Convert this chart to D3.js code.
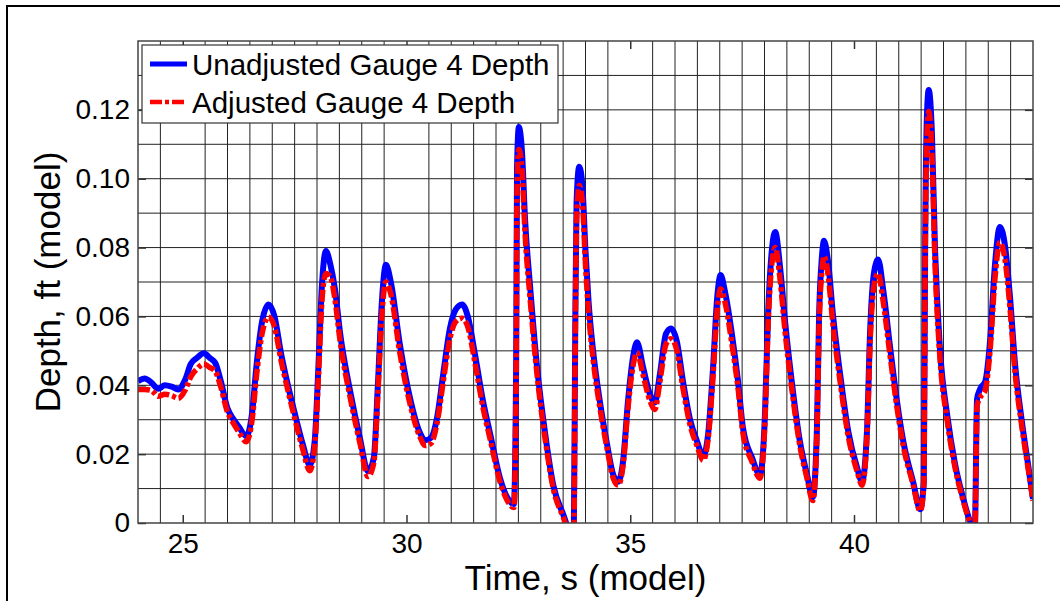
<!DOCTYPE html>
<html>
<head>
<meta charset="utf-8">
<script src="https://cdn.jsdelivr.net/npm/d3@7"></script>
<style>
  body { margin: 0; background: #fff; }
  svg { display: block; font-family: "Liberation Sans", Arial, sans-serif; }
</style>
</head>
<body>
<div id="chart"></div>
<script>
// time, s (model)
var time = [
  24.00, 24.15, 24.30, 24.45, 24.60, 24.75, 24.90, 25.05, 25.18, 25.32, 25.47, 25.60, 25.73, 25.85,
  26.00, 26.12, 26.25, 26.42, 26.55, 26.65, 26.78, 26.92, 27.05, 27.20, 27.35, 27.50, 27.68, 27.84,
  27.95, 28.03, 28.11, 28.20, 28.30, 28.40, 28.52, 28.74, 28.96, 29.14, 29.27, 29.36, 29.45, 29.54,
  29.65, 29.85, 30.08, 30.30, 30.42, 30.55, 30.68, 30.82, 30.97, 31.10, 31.24, 31.37, 31.53, 31.71,
  31.87, 32.09, 32.30, 32.40, 32.45, 32.47, 32.51, 32.58, 32.65, 32.76, 32.92, 33.10, 33.28, 33.50,
  33.65, 33.74, 33.77, 33.80, 33.86, 33.93, 34.00, 34.07, 34.17, 34.32, 34.48, 34.62, 34.73, 34.84,
  34.95, 35.06, 35.15, 35.29, 35.44, 35.55, 35.66, 35.80, 35.91, 36.04, 36.18, 36.33, 36.49, 36.63,
  36.74, 36.85, 36.94, 37.02, 37.12, 37.27, 37.41, 37.52, 37.72, 37.90, 38.01, 38.08, 38.17, 38.24,
  38.35, 38.46, 38.61, 38.79, 38.95, 39.08, 39.17, 39.22, 39.28, 39.33, 39.42, 39.53, 39.69, 39.87,
  40.07, 40.18, 40.29, 40.36, 40.45, 40.54, 40.65, 40.81, 40.96, 41.10, 41.32, 41.48, 41.56, 41.59,
  41.63, 41.67, 41.74, 41.81, 41.92, 42.08, 42.26, 42.44, 42.59, 42.70, 42.75, 42.82, 42.93, 43.04,
  43.15, 43.26, 43.38, 43.49, 43.60, 43.75, 43.89, 44.00
];

// Unadjusted Gauge 4 Depth, ft (model)
var unadjusted = [
  0.0412, 0.0420, 0.0408, 0.0390, 0.0400, 0.0396, 0.0388, 0.0415, 0.0462, 0.0480, 0.0493, 0.0480, 0.0464, 0.0412,
  0.0333, 0.0304, 0.0280, 0.0252, 0.0320, 0.0460, 0.0590, 0.0635, 0.0600, 0.0490, 0.0400, 0.0320, 0.0230, 0.0168,
  0.0240, 0.0450, 0.0690, 0.0790, 0.0750, 0.0680, 0.0548, 0.0383, 0.0246, 0.0150, 0.0190, 0.0400, 0.0643, 0.0750,
  0.0700, 0.0520, 0.0362, 0.0262, 0.0240, 0.0248, 0.0304, 0.0432, 0.0565, 0.0620, 0.0635, 0.0600, 0.0490, 0.0354,
  0.0258, 0.0130, 0.0064, 0.0055, 0.0450, 0.1030, 0.1150, 0.1080, 0.0880, 0.0690, 0.0450, 0.0258, 0.0110, 0.0026,
  -0.0020, -0.0010, 0.0550, 0.0930, 0.1035, 0.0980, 0.0790, 0.0640, 0.0500, 0.0354, 0.0230, 0.0140, 0.0120, 0.0180,
  0.0354, 0.0480, 0.0525, 0.0450, 0.0374, 0.0350, 0.0430, 0.0550, 0.0565, 0.0528, 0.0410, 0.0304, 0.0238, 0.0195,
  0.0258, 0.0450, 0.0650, 0.0720, 0.0670, 0.0550, 0.0410, 0.0275, 0.0190, 0.0140, 0.0315, 0.0605, 0.0800, 0.0845,
  0.0740, 0.0585, 0.0410, 0.0238, 0.0140, 0.0075, 0.0267, 0.0605, 0.0768, 0.0820, 0.0760, 0.0605, 0.0432, 0.0267,
  0.0160, 0.0120, 0.0267, 0.0557, 0.0730, 0.0765, 0.0680, 0.0507, 0.0354, 0.0238, 0.0120, 0.0040, 0.0120, 0.0800,
  0.1185, 0.1258, 0.1136, 0.0800, 0.0507, 0.0316, 0.0170, 0.0072, 0.0006, -0.0020, 0.0360, 0.0390, 0.0410, 0.0528,
  0.0750, 0.0860, 0.0800, 0.0650, 0.0460, 0.0296, 0.0170, 0.0070
];

// Adjusted Gauge 4 Depth, ft (model)
var adjusted = [
  0.0388, 0.0388, 0.0385, 0.0368, 0.0374, 0.0370, 0.0362, 0.0385, 0.0425, 0.0448, 0.0462, 0.0452, 0.0440, 0.0395,
  0.0322, 0.0292, 0.0265, 0.0236, 0.0300, 0.0430, 0.0555, 0.0598, 0.0570, 0.0470, 0.0385, 0.0305, 0.0215, 0.0152,
  0.0225, 0.0420, 0.0645, 0.0725, 0.0715, 0.0650, 0.0525, 0.0365, 0.0232, 0.0135, 0.0175, 0.0375, 0.0605, 0.0700,
  0.0665, 0.0495, 0.0345, 0.0250, 0.0225, 0.0232, 0.0288, 0.0410, 0.0535, 0.0585, 0.0595, 0.0570, 0.0465, 0.0335,
  0.0243, 0.0120, 0.0055, 0.0045, 0.0420, 0.0970, 0.1085, 0.1030, 0.0840, 0.0655, 0.0428, 0.0243, 0.0100, 0.0018,
  -0.0030, -0.0020, 0.0520, 0.0880, 0.0980, 0.0935, 0.0750, 0.0610, 0.0475, 0.0336, 0.0218, 0.0130, 0.0110, 0.0168,
  0.0335, 0.0455, 0.0495, 0.0428, 0.0355, 0.0330, 0.0408, 0.0520, 0.0535, 0.0502, 0.0390, 0.0288, 0.0225, 0.0182,
  0.0245, 0.0428, 0.0615, 0.0680, 0.0640, 0.0522, 0.0390, 0.0260, 0.0178, 0.0130, 0.0298, 0.0575, 0.0760, 0.0800,
  0.0705, 0.0555, 0.0390, 0.0225, 0.0130, 0.0065, 0.0252, 0.0575, 0.0728, 0.0775, 0.0722, 0.0575, 0.0410, 0.0253,
  0.0150, 0.0110, 0.0253, 0.0528, 0.0692, 0.0725, 0.0645, 0.0482, 0.0336, 0.0225, 0.0112, 0.0035, 0.0112, 0.0760,
  0.1125, 0.1195, 0.1080, 0.0760, 0.0482, 0.0300, 0.0160, 0.0065, 0.0002, -0.0030, 0.0340, 0.0365, 0.0385, 0.0500,
  0.0710, 0.0815, 0.0760, 0.0618, 0.0437, 0.0281, 0.0160, 0.0065
];

var xTicks = [25, 30, 35, 40];
var yTicks = [0, 0.02, 0.04, 0.06, 0.08, 0.10, 0.12];
var seriesNames = ["Unadjusted Gauge 4 Depth", "Adjusted Gauge 4 Depth"];

var width = 1060, height = 601;
var margin = {top: 41, right: 27, bottom: 78, left: 138};
var iw = width - margin.left - margin.right,
    ih = height - margin.top - margin.bottom;

var svg = d3.select("#chart").append("svg")
    .attr("width", width)
    .attr("height", height);

// figure frame (runs off the right and bottom edges)
svg.append("rect")
    .attr("x", 7).attr("y", 6)
    .attr("width", width + 20).attr("height", height + 20)
    .attr("fill", "none")
    .attr("stroke", "#000")
    .attr("stroke-width", 2);

var x = d3.scaleLinear().domain([24, 44]).range([0, iw]);
var y = d3.scaleLinear().domain([0, 0.14]).range([ih, 0]);

var g = svg.append("g").attr("transform", `translate(${margin.left},${margin.top})`);

g.append("rect").attr("width", iw).attr("height", ih).attr("fill", "#fff");

// grid: every 0.5 s (major positions only get ticks), every 0.01 ft
var xGrid = d3.range(24.5, 44, 0.5).filter(v => v % 5 !== 0);
var yGrid = d3.range(1, 14).map(i => i / 100);

g.append("g").selectAll("line")
  .data(xGrid)
  .join("line")
    .attr("x1", d => x(d)).attr("x2", d => x(d))
    .attr("y1", 0).attr("y2", ih)
    .attr("stroke", "#222").attr("stroke-width", 1);

g.append("g").selectAll("line")
  .data(yGrid)
  .join("line")
    .attr("x1", 0).attr("x2", iw)
    .attr("y1", d => y(d)).attr("y2", d => y(d))
    .attr("stroke", "#222").attr("stroke-width", 1);

// data lines
g.append("clipPath").attr("id", "clip")
  .append("rect").attr("width", iw).attr("height", ih);

var rows = time.map((t, i) => ({t: t, u: unadjusted[i], a: adjusted[i]}));

var lineU = d3.line().x(d => x(d.t)).y(d => y(d.u)).curve(d3.curveMonotoneX);
var lineA = d3.line().x(d => x(d.t)).y(d => y(d.a)).curve(d3.curveMonotoneX);

var plot = g.append("g").attr("clip-path", "url(#clip)");

plot.append("path")
    .datum(rows)
    .attr("d", lineU)
    .attr("fill", "none")
    .attr("stroke", "#0000ff")
    .attr("stroke-width", 6)
    .attr("stroke-linejoin", "round");

plot.append("path")
    .datum(rows)
    .attr("d", lineA)
    .attr("fill", "none")
    .attr("stroke", "#ff0000")
    .attr("stroke-width", 5.5)
    .attr("stroke-dasharray", "12,3,4,3");

// axes
var fmtY = d => d === 0 ? "0" : d3.format(".2f")(d);

g.append("g")
    .attr("transform", `translate(0,${ih})`)
    .call(d3.axisBottom(x).tickValues(xTicks).tickSize(-8).tickPadding(10));

g.append("g")
    .call(d3.axisTop(x).tickValues(xTicks).tickSize(-8).tickFormat(""));

g.append("g")
    .call(d3.axisLeft(y).tickValues(yTicks).tickSize(-8).tickPadding(8).tickFormat(fmtY));

g.append("g")
    .attr("transform", `translate(${iw},0)`)
    .call(d3.axisRight(y).tickValues(yTicks).tickSize(-8).tickFormat(""));

g.selectAll(".domain").remove();
g.selectAll(".tick line").attr("stroke", "#333").attr("stroke-width", 1.5);
g.selectAll(".tick text")
    .attr("fill", "#000")
    .style("font-size", "28px")
    .style("font-family", "'Liberation Sans', Arial, sans-serif");

g.append("rect")
    .attr("width", iw).attr("height", ih)
    .attr("fill", "none")
    .attr("stroke", "#444")
    .attr("stroke-width", 1.5);

// axis titles
svg.append("text")
    .attr("x", margin.left + iw / 2)
    .attr("y", 590)
    .attr("text-anchor", "middle")
    .style("font-size", "35px")
    .text("Time, s (model)");

svg.append("text")
    .attr("transform", `translate(60,${margin.top + ih / 2}) rotate(-90)`)
    .attr("text-anchor", "middle")
    .style("font-size", "35px")
    .text("Depth, ft (model)");

// legend
var legend = svg.append("g").attr("transform", "translate(142,45)");

legend.append("rect")
    .attr("width", 416).attr("height", 78)
    .attr("fill", "#fff")
    .attr("stroke", "#333")
    .attr("stroke-width", 1.2);

var legendStyles = [
  {color: "#0000ff", dash: null, w: 5},
  {color: "#ff0000", dash: "12,3,4,3", w: 4.5}
];

seriesNames.forEach((name, i) => {
  var row = legend.append("g").attr("transform", `translate(0,${19 + i * 38})`);
  row.append("line")
      .attr("x1", 8).attr("x2", 45)
      .attr("stroke", legendStyles[i].color)
      .attr("stroke-width", legendStyles[i].w)
      .attr("stroke-dasharray", legendStyles[i].dash);
  row.append("text")
      .attr("x", 50).attr("y", 11)
      .style("font-size", "29.5px")
      .text(name);
});
</script>
</body>
</html>
